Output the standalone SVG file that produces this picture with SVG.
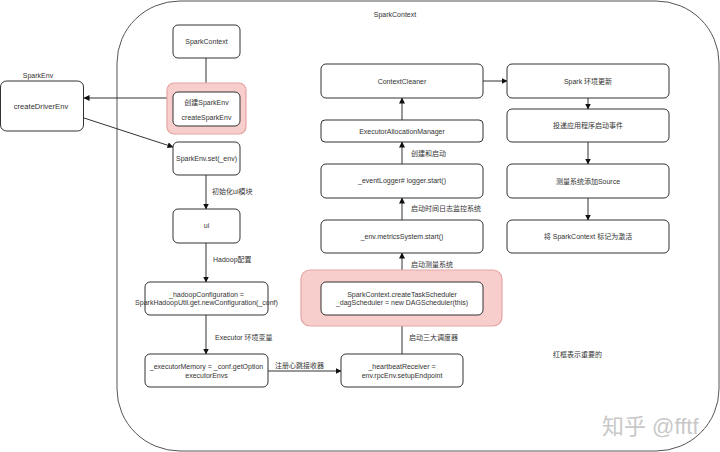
<svg xmlns="http://www.w3.org/2000/svg" width="720" height="452" viewBox="0 0 720 452">
<style>
text{font-family:"Liberation Sans","Noto Sans CJK SC",sans-serif;font-size:7px;fill:#333;}
.c{text-anchor:middle;}
.l{text-anchor:start;}
.box{fill:#fff;stroke:#333;stroke-width:1;}
.pink{fill:#f8cecc;stroke:#e4a3a3;stroke-width:1.2;}
.edge{fill:none;stroke:#333;stroke-width:1;}
.arr{marker-end:url(#ah);}
.wm{font-size:22px;fill:#c8c8c8;text-anchor:start;}
</style>
<defs>
<marker id="ah" markerUnits="userSpaceOnUse" markerWidth="6" markerHeight="6" refX="5.5" refY="3" orient="auto">
<path d="M0,0 L6,3 L0,6 z" fill="#111"/>
</marker>
</defs>
<rect width="720" height="452" fill="#fff"/>
<g id="container">
<rect x="117" y="1" width="602" height="450" rx="63" ry="62" fill="none" stroke="#555" stroke-width="1"/>
<text class="c" x="395" y="17">SparkContext</text>
</g>
<g id="connectors">
<line class="edge" x1="206" y1="58" x2="206" y2="84"/>
<line class="edge arr" x1="167" y1="98" x2="84" y2="98"/>
<line class="edge arr" x1="84" y1="118" x2="173" y2="147"/>
<line class="edge arr" x1="206" y1="175" x2="206" y2="209"/>
<text class="l" x="212" y="194">初始化ui模块</text>
<line class="edge arr" x1="206" y1="243" x2="206" y2="282"/>
<text class="l" x="213" y="262">Hadoop配置</text>
<line class="edge arr" x1="206" y1="315" x2="206" y2="354"/>
<text class="l" x="215" y="340">Executor 环境变量</text>
<line class="edge arr" x1="268" y1="371" x2="341" y2="371"/>
<text class="l" x="275" y="368">注册心跳接收器</text>
<line class="edge" x1="402" y1="354" x2="402" y2="326"/>
<text class="l" x="409" y="340">启动三大调度器</text>
<line class="edge arr" x1="402" y1="270" x2="402" y2="253"/>
<text class="l" x="411" y="267">启动测量系统</text>
<line class="edge arr" x1="402" y1="220" x2="402" y2="198"/>
<text class="l" x="411" y="211">启动时间日志监控系统</text>
<line class="edge arr" x1="402" y1="164" x2="402" y2="142"/>
<text class="l" x="411" y="156">创建和启动</text>
<line class="edge arr" x1="402" y1="120" x2="402" y2="98"/>
<line class="edge arr" x1="483" y1="81" x2="507" y2="81"/>
<line class="edge arr" x1="588" y1="98" x2="588" y2="109"/>
<line class="edge arr" x1="588" y1="142" x2="588" y2="164"/>
<line class="edge arr" x1="588" y1="198" x2="588" y2="220"/>
</g>
<g id="n-sparkcontext">
<rect class="box" x="173" y="25" width="67" height="33" rx="5"/>
<text class="c" x="206.5" y="44">SparkContext</text>
</g>
<g id="n-createsparkenv">
<rect class="pink" x="167" y="83" width="79" height="51" rx="7"/>
<rect class="box" x="173" y="92" width="67" height="34" rx="5"/>
<text class="c" x="206.5" y="105">创建SparkEnv</text>
<text class="c" x="206.5" y="120">createSparkEnv</text>
</g>
<g id="n-createdriverenv">
<text class="c" x="38" y="78">SparkEnv</text>
<rect class="box" x="0.5" y="81" width="83" height="50" rx="6"/>
<text class="c" x="41" y="109" style="font-size:7.6px">createDriverEnv</text>
</g>
<g id="n-sparkenvset">
<rect class="box" x="173" y="142" width="67" height="33" rx="5"/>
<text class="c" x="206.5" y="161">SparkEnv.set(_env)</text>
</g>
<g id="n-ui">
<rect class="box" x="173" y="209" width="67" height="34" rx="5"/>
<text class="c" x="206.5" y="228">ui</text>
</g>
<g id="n-hadoop">
<rect class="box" x="145" y="282" width="123" height="33" rx="5"/>
<text class="c" x="206.5" y="297">_hadoopConfiguration =</text>
<text class="c" x="206.5" y="305">SparkHadoopUtil.get.newConfiguration(_conf)</text>
</g>
<g id="n-executor">
<rect class="box" x="145" y="354" width="123" height="33" rx="5"/>
<text class="c" x="206.5" y="369">_executorMemory = _conf.getOption</text>
<text class="c" x="206.5" y="378">executorEnvs</text>
</g>
<g id="n-heartbeat">
<rect class="box" x="341" y="354" width="122" height="33" rx="5"/>
<text class="c" x="402" y="369">_heartbeatReceiver =</text>
<text class="c" x="402" y="378">env.rpcEnv.setupEndpoint</text>
</g>
<g id="n-scheduler">
<rect class="pink" x="301" y="270" width="201" height="56" rx="9"/>
<rect class="box" x="321" y="282" width="162" height="33" rx="5"/>
<text class="c" x="402" y="297">SparkContext.createTaskScheduler</text>
<text class="c" x="402" y="305">_dagScheduler = new DAGScheduler(this)</text>
</g>
<g id="n-metrics">
<rect class="box" x="321" y="220" width="162" height="33" rx="5"/>
<text class="c" x="402" y="239">_env.metricsSystem.start()</text>
</g>
<g id="n-eventlogger">
<rect class="box" x="321" y="164" width="162" height="34" rx="5"/>
<text class="c" x="402" y="183">_eventLogger# logger.start()</text>
</g>
<g id="n-eam">
<rect class="box" x="321" y="120" width="162" height="22" rx="4"/>
<text class="c" x="402" y="133.5">ExecutorAllocationManager</text>
</g>
<g id="n-contextcleaner">
<rect class="box" x="321" y="64" width="162" height="34" rx="5"/>
<text class="c" x="402" y="83.5">ContextCleaner</text>
</g>
<g id="n-envupdate">
<rect class="box" x="507" y="64" width="162" height="34" rx="5"/>
<text class="c" x="588" y="83.5">Spark 环境更新</text>
</g>
<g id="n-postevent">
<rect class="box" x="507" y="109" width="162" height="33" rx="5"/>
<text class="c" x="588" y="128">投递应用程序启动事件</text>
</g>
<g id="n-source">
<rect class="box" x="507" y="164" width="162" height="34" rx="5"/>
<text class="c" x="588" y="183.5">测量系统添加Source</text>
</g>
<g id="n-active">
<rect class="box" x="507" y="220" width="162" height="33" rx="5"/>
<text class="c" x="588" y="239">将 SparkContext 标记为激活</text>
</g>
<g id="note">
<text class="l" x="553" y="357">红框表示重要的</text>
</g>
<g id="watermark">
<text class="wm" x="602" y="434">知乎 @fftf</text>
</g>
</svg>
